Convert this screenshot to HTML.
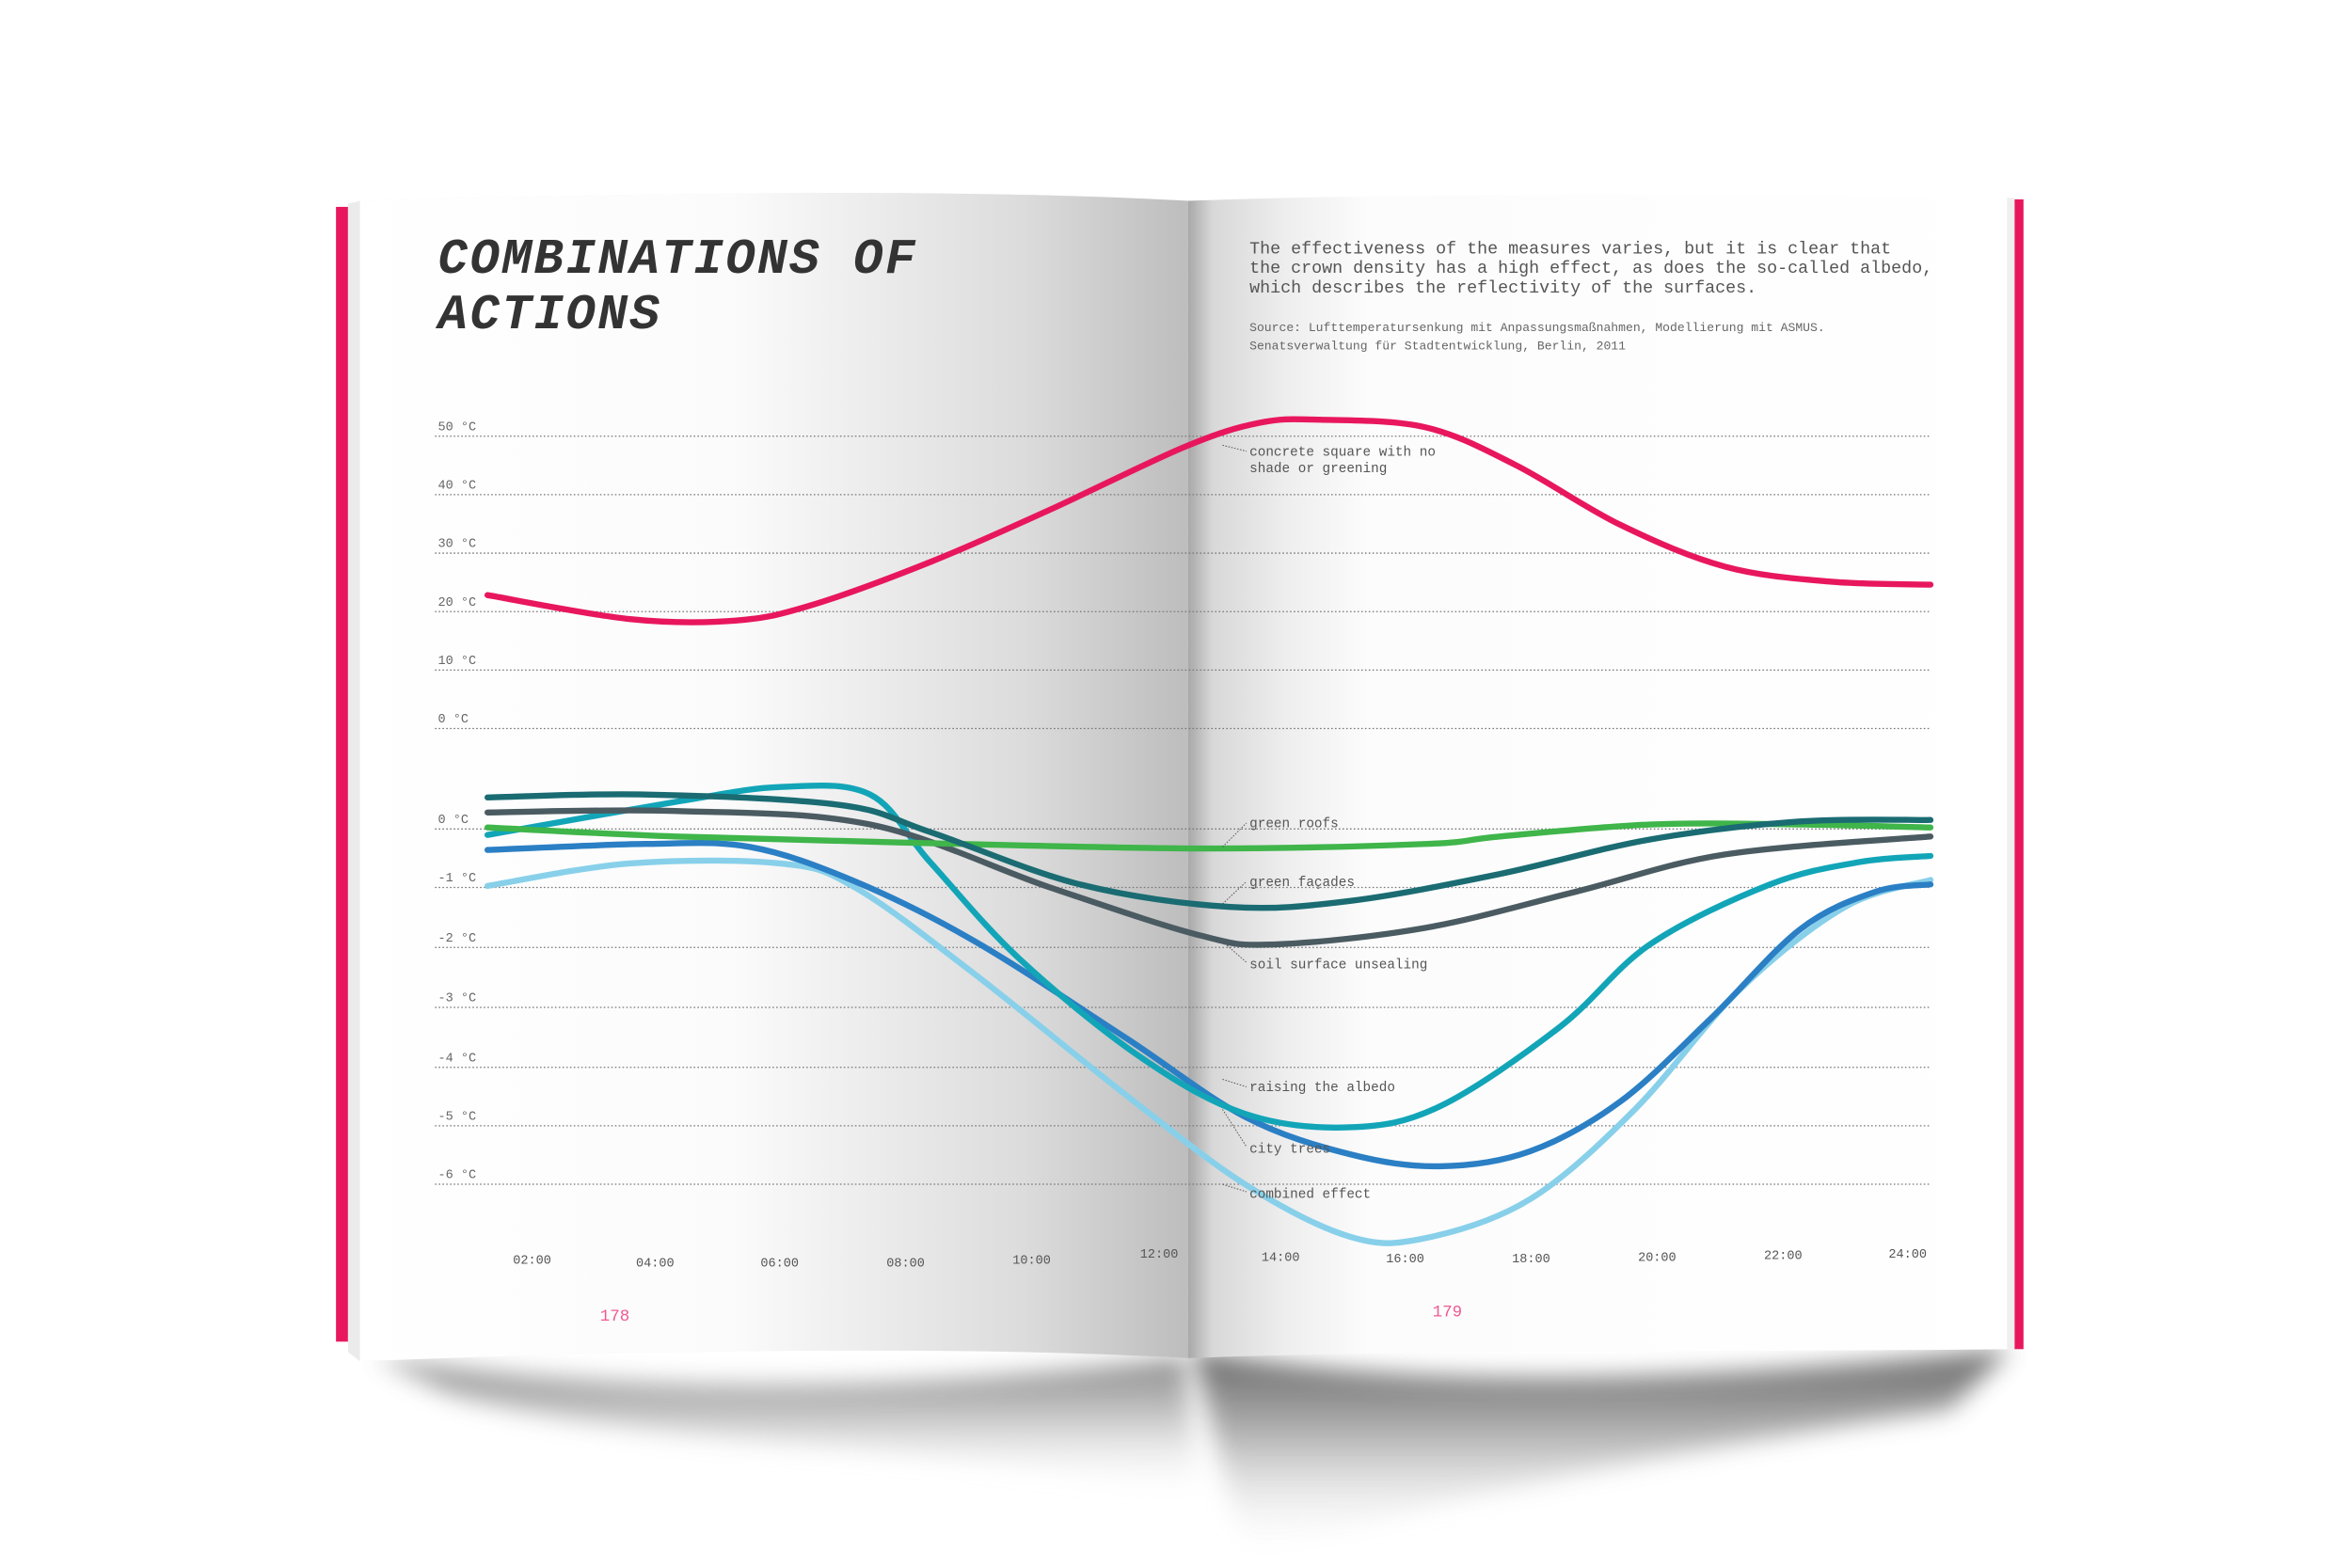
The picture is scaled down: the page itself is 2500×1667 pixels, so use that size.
<!DOCTYPE html>
<html><head><meta charset="utf-8">
<style>
html,body{margin:0;padding:0;background:#fff;}
svg{display:block;}
text{font-family:"Liberation Mono","DejaVu Sans Mono",monospace;}
</style></head>
<body>
<svg id="s" width="2500" height="1667" viewBox="0 0 1568 1046" preserveAspectRatio="none" xmlns="http://www.w3.org/2000/svg">
<defs>
<linearGradient id="lp" x1="0" x2="1" y1="0" y2="0">
<stop offset="0" stop-color="#ffffff"/><stop offset="0.45" stop-color="#fbfbfb"/><stop offset="0.8" stop-color="#dcdcdc"/><stop offset="1" stop-color="#bdbdbd"/>
</linearGradient>
<linearGradient id="rp" x1="0" x2="1" y1="0" y2="0">
<stop offset="0" stop-color="#a8a8a8"/><stop offset="0.03" stop-color="#d8d8d8"/><stop offset="0.12" stop-color="#eeeeee"/><stop offset="0.22" stop-color="#fcfcfc"/><stop offset="1" stop-color="#ffffff"/>
</linearGradient>
<linearGradient id="sh" x1="0" x2="0" y1="0" y2="1">
<stop offset="0" stop-color="#555"/><stop offset="0.4" stop-color="#aaa"/><stop offset="1" stop-color="#fff" stop-opacity="0"/>
</linearGradient>
<filter id="bl"><feGaussianBlur stdDeviation="8"/></filter>
</defs>
<path d="M250,905 C400,930 600,930 790,905 L800,1000 C650,960 450,970 300,930 Z" fill="url(#sh)" filter="url(#bl)" opacity="0.7"/>
<path d="M795,900 C950,930 1150,920 1340,900 L1300,940 C1100,970 950,1000 830,1040 Z" fill="url(#sh)" filter="url(#bl)" opacity="0.9"/>
<rect x="224" y="138" width="8" height="757" fill="#e8175d"/>
<rect x="1343" y="133" width="6" height="767" fill="#e8175d"/>
<path d="M232,136 L240,134 C450,128 650,126 792,134 L792,906 C650,898 450,900 240,908 L232,902 Z" fill="#ebebeb"/>
<path d="M240,134 C450,128 650,126 792,134 L792,906 C650,898 450,900 240,908 Z" fill="url(#lp)"/>
<path d="M792,134 C950,128 1150,130 1340,132 L1340,900 C1150,902 950,900 792,906 Z" fill="url(#rp)"/>
<rect x="1338" y="132" width="5" height="768" fill="#efefef"/>
<text x="292" y="182" font-size="33" font-weight="bold" fill="#333" letter-spacing="1.5" font-style="italic">COMBINATIONS OF</text>
<text x="292" y="219" font-size="33" font-weight="bold" fill="#333" letter-spacing="1.5" font-style="italic">ACTIONS</text>
<g font-size="11.5" fill="#555">
<text x="833" y="169">The effectiveness of the measures varies, but it is clear that</text>
<text x="833" y="182">the crown density has a high effect, as does the so-called albedo,</text>
<text x="833" y="195">which describes the reflectivity of the surfaces.</text>
</g>
<g font-size="8.2" fill="#666">
<text x="833" y="221">Source: Lufttemperatursenkung mit Anpassungsmaßnahmen, Modellierung mit ASMUS.</text>
<text x="833" y="233">Senatsverwaltung für Stadtentwicklung, Berlin, 2011</text>
</g>
<g stroke="#777" stroke-width="0.8" stroke-dasharray="1,1.5" id="grid"></g>
<g font-size="8.5" fill="#666" id="ylab"></g>
<g font-size="8.5" fill="#555" id="xlab"></g>
<g id="curves" fill="none" stroke-width="4" stroke-linecap="round"></g>
<g font-size="9" fill="#555">
<text x="833" y="304">concrete square with no</text>
<text x="833" y="315">shade or greening</text>
<text x="833" y="552">green roofs</text>
<text x="833" y="591">green façades</text>
<text x="833" y="646">soil surface unsealing</text>
<text x="833" y="728">raising the albedo</text>
<text x="833" y="769">city trees</text>
<text x="833" y="799">combined effect</text>
</g>
<g stroke="#555" stroke-width="0.6" stroke-dasharray="1,1">
<line x1="815" y1="297" x2="831" y2="301"/>
<line x1="815" y1="565" x2="831" y2="549"/>
<line x1="815" y1="603" x2="831" y2="588"/>
<line x1="815" y1="628" x2="831" y2="642"/>
<line x1="815" y1="720" x2="831" y2="725"/>
<line x1="815" y1="740" x2="831" y2="765"/>
<line x1="815" y1="790" x2="831" y2="795"/>
</g>
<text x="400" y="881" font-size="11" fill="#f05a93">178</text>
<text x="955" y="878" font-size="11" fill="#f05a93">179</text>
</svg>
<script>
var NS="http://www.w3.org/2000/svg";
function el(p,t,a,txt){var e=document.createElementNS(NS,t);for(var k in a)e.setAttribute(k,a[k]);if(txt)e.textContent=txt;document.getElementById(p).appendChild(e);}
var gy=[290,329,368,407,446,485,552,591,631,671,711,750,789];
var gl=["50 °C","40 °C","30 °C","20 °C","10 °C","0 °C","0 °C","-1 °C","-2 °C","-3 °C","-4 °C","-5 °C","-6 °C"];
gy.forEach(function(y,i){el("grid","line",{x1:290,y1:y+1,x2:1287,y2:y+1});el("ylab","text",{x:292,y:y-3},gl[i]);});
var xs=[["02:00",342,843],["04:00",424,845],["06:00",507,845],["08:00",591,845],["10:00",675,843],["12:00",760,839],["14:00",841,841],["16:00",924,842],["18:00",1008,842],["20:00",1092,841],["22:00",1176,840],["24:00",1259,839]];
xs.forEach(function(a){el("xlab","text",{x:a[1],y:a[2]},a[0]);});
function cr(p){var d="M"+p[0][0]+","+p[0][1];for(var i=0;i<p.length-1;i++){var p0=p[i-1]||p[i],p1=p[i],p2=p[i+1],p3=p[i+2]||p2;
d+=" C"+(p1[0]+(p2[0]-p0[0])/6)+","+(p1[1]+(p2[1]-p0[1])/6)+" "+(p2[0]-(p3[0]-p1[0])/6)+","+(p2[1]-(p3[1]-p1[1])/6)+" "+p2[0]+","+p2[1];}return d;}
var S=[
["#88d0ea",[[325,591],[420,576],[520,576],[570,592],[650,650],[750,730],[830,790],[900,825],[950,826],[1020,800],[1090,740],[1160,660],[1230,605],[1287,587]]],
["#2b7fc4",[[325,567],[430,563],[500,565],[570,588],[650,628],[750,692],[830,745],[900,770],[960,778],[1020,768],[1080,735],[1140,680],[1200,620],[1250,595],[1287,590]]],
["#12a5b8",[[325,557],[450,535],[520,525],[580,530],[620,575],[680,640],[760,705],[830,743],[900,752],[960,738],[1040,685],[1100,630],[1180,590],[1240,575],[1287,571]]],
["#4b5b62",[[325,542],[450,541],[580,550],[700,592],[800,624],[850,630],[950,619],[1050,595],[1150,570],[1287,558]]],
["#3fb54a",[[325,552],[450,558],[600,562],[800,566],[950,563],[1000,558],[1100,550],[1200,550],[1287,552]]],
["#1a6c72",[[325,532],[430,530],[560,537],[620,555],[720,590],[820,605],[900,601],[1000,583],[1100,560],[1200,548],[1287,547]]],
["#e8175d",[[325,397],[420,413],[490,414],[540,404],[620,375],[700,340],[790,298],[840,282],[880,280],[950,285],[1010,310],[1080,350],[1150,378],[1220,388],[1287,390]]]
];
S.forEach(function(s){el("curves","path",{d:cr(s[1]),stroke:s[0]});});
</script>
</body></html>
